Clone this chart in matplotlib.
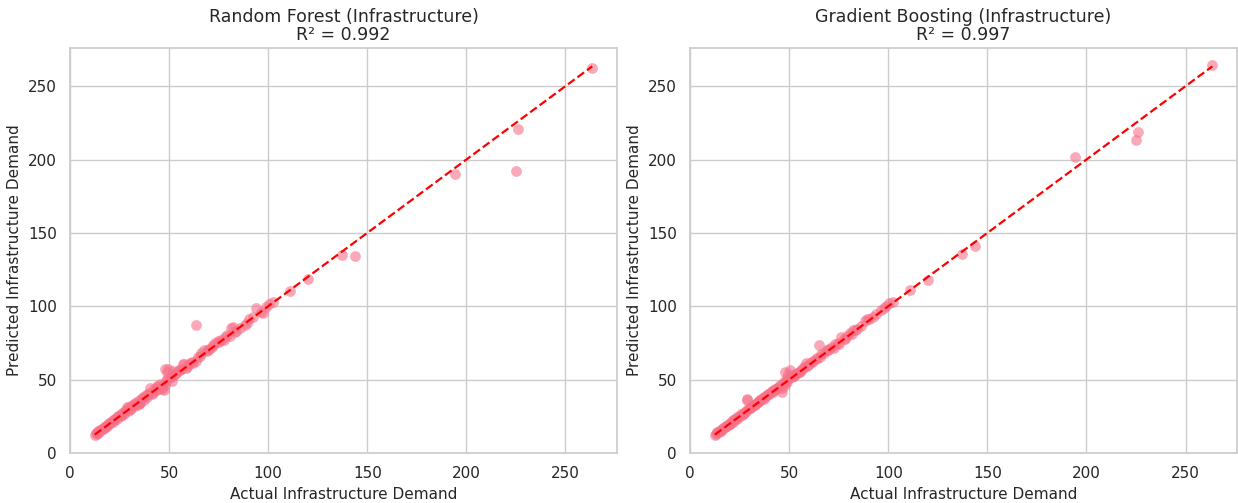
import matplotlib
matplotlib.use("Agg")
import matplotlib.pyplot as plt
import seaborn as sns

sns.set_theme(style="whitegrid")
plt.rcParams['font.family'] = ['DejaVu Sans']

actual = [12.5, 13.1, 13.8, 14.2, 14.9, 15.5, 16.0, 16.8, 17.3, 18.1, 18.7, 19.4, 20.0, 20.8,
          21.5, 22.1, 22.9, 23.6, 24.2, 25.0, 25.8, 26.5, 27.1, 27.9, 28.6, 29.3, 30.0, 30.8,
          31.5, 32.2, 33.0, 33.7, 34.5, 35.2, 36.0, 36.8, 37.5, 38.3, 39.0, 39.8, 40.6, 41.4,
          42.2, 43.0, 43.9, 44.7, 45.6, 46.4, 47.3, 48.1, 48.9, 49.6, 50.4, 51.3, 52.2, 53.1,
          54.0, 55.0, 56.1, 57.2, 58.3, 59.5, 60.7, 62.0, 63.4, 64.8, 66.3, 67.5, 68.9, 70.2,
          71.6, 73.0, 74.5, 76.0, 77.6, 79.3, 80.8, 82.4, 84.0, 86.0, 88.2, 90.3, 92.5, 94.0,
          96.5, 98.7, 100.5, 102.3, 111.0, 120.2, 137.0, 143.8, 194.2, 225.0, 226.2, 263.5,
          63.8, 49.0, 46.2, 81.5, 57.5, 35.0, 28.9, 47.8,
          13.4, 15.1, 17.9, 19.9, 21.9, 23.9, 26.1, 28.0, 30.4, 32.7, 34.9, 37.1, 39.4, 41.8,
          44.1, 46.9, 48.6, 50.9, 52.7, 55.6, 59.0, 61.4, 65.6, 69.5, 72.4, 75.2, 78.4, 83.1,
          89.5, 97.6]

rf_pred = [12.3, 13.5, 13.6, 14.8, 14.6, 15.9, 16.4, 16.5, 17.8, 18.0, 19.2, 19.0, 20.6, 21.1,
           21.0, 22.8, 23.3, 23.0, 24.9, 26.2, 25.4, 27.3, 26.8, 28.5, 29.9, 28.8, 31.2, 30.1,
           32.6, 31.8, 34.1, 32.9, 35.6, 33.8, 36.9, 38.2, 36.4, 39.5, 38.1, 41.2, 44.5, 40.3,
           43.6, 42.1, 45.4, 43.8, 47.0, 45.2, 43.0, 57.0, 50.2, 57.3, 51.8, 49.0, 56.2, 54.0,
           55.3, 56.4, 57.0, 60.5, 58.0, 60.1, 61.3, 61.5, 63.0, 65.5, 68.0, 70.1, 69.5, 70.8,
           72.0, 75.0, 76.3, 77.2, 76.9, 80.4, 79.5, 86.0, 83.2, 84.9, 87.0, 91.5, 93.0, 98.8,
           96.0, 99.4, 101.8, 103.0, 110.5, 118.5, 135.2, 134.3, 190.1, 192.0, 220.5, 262.5,
           87.2, 55.5, 43.5, 85.0, 60.8, 33.2, 31.5, 46.0,
           13.2, 15.4, 17.6, 20.3, 22.3, 24.5, 25.7, 28.4, 29.8, 33.4, 34.3, 37.6, 40.0, 41.2,
           45.0, 46.3, 49.3, 52.0, 53.4, 56.8, 58.6, 62.0, 66.2, 70.4, 73.5, 75.9, 79.0, 82.3,
           88.4, 95.5]

gb_pred = [12.6, 13.0, 14.1, 14.0, 15.2, 15.3, 16.2, 17.0, 17.1, 18.4, 18.5, 19.8, 19.9, 21.2,
           21.3, 22.4, 23.4, 23.2, 24.8, 25.3, 26.4, 26.9, 27.6, 28.2, 36.5, 30.1, 30.4, 31.2,
           31.9, 32.6, 33.4, 34.2, 34.9, 35.9, 36.5, 37.3, 38.1, 38.9, 39.6, 40.4, 41.3, 42.0,
           42.6, 43.5, 44.2, 45.3, 46.0, 41.5, 48.0, 55.0, 49.8, 53.6, 56.5, 51.9, 52.8, 53.7,
           54.6, 55.2, 56.9, 58.1, 61.0, 60.2, 61.5, 62.6, 64.0, 73.8, 67.2, 68.0, 70.1, 70.9,
           72.3, 74.1, 75.0, 79.2, 77.9, 80.0, 82.1, 83.5, 84.4, 86.5, 89.8, 91.6, 92.4, 95.0,
           97.2, 100.4, 102.0, 103.1, 111.2, 118.0, 135.5, 141.0, 202.0, 213.0, 219.0, 264.5,
           65.0, 48.5, 44.0, 81.0, 58.8, 35.5, 35.8, 46.5,
           13.6, 14.8, 18.2, 19.6, 22.3, 24.4, 25.8, 28.3, 31.0, 32.4, 35.4, 36.7, 39.9, 41.5,
           43.6, 47.4, 50.2, 51.5, 53.3, 55.1, 59.6, 62.0, 65.1, 70.3, 71.8, 74.6, 78.0, 84.0,
           91.0, 99.0]

titles = ["Random Forest (Infrastructure)\nR² = 0.992",
          "Gradient Boosting (Infrastructure)\nR² = 0.997"]
point_color = "#f77189"

fig = plt.figure(figsize=(12.38, 5.03), dpi=100)
positions = [[0.0565, 0.0994, 0.4419, 0.8052], [0.5574, 0.0994, 0.4419, 0.8052]]
lo, hi = min(actual), max(actual)
for pos, pred, title in zip(positions, [rf_pred, gb_pred], titles):
    ax = fig.add_axes(pos)
    ax.scatter(actual, pred, s=60, color=point_color, alpha=0.6, linewidths=0)
    ax.plot([lo, hi], [lo, hi], linestyle='--', color='red', lw=1.6)
    ax.set_xlim(0, 276)
    ax.set_ylim(0, 276)
    ax.set_xticks([0, 50, 100, 150, 200, 250])
    ax.set_yticks([0, 50, 100, 150, 200, 250])
    ax.set_xlabel("Actual Infrastructure Demand", fontsize=11)
    ax.set_ylabel("Predicted Infrastructure Demand", fontsize=11)
    ax.set_title(title, fontsize=12.5, linespacing=1.0)
    ax.tick_params(labelsize=11)

fig.savefig("out.png", dpi=100)
